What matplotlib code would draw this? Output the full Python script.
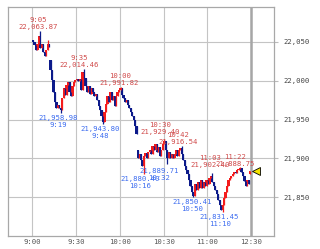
import matplotlib
matplotlib.use("Agg")
import matplotlib.pyplot as plt

# 1-minute candles, 9:00 .. 11:29 (morning session)
closes = [
    22049.6, 22045.8, 22039.3, 22047.0, 22057.3, 22041.9, 22047.0, 22036.8, 22031.6, 22039.3,
    22047.0, 22043.2, 22013.6, 22000.8, 21985.4, 21972.5, 21964.8, 21968.6, 21964.8, 21962.2,
    21977.6, 21990.5, 21981.5, 21994.3, 21998.2, 21985.4, 21980.2, 21993.1, 21998.2, 22000.8,
    22002.1, 21999.5, 22002.1, 21987.9, 22011.1, 22003.3, 21993.1, 21985.4, 21993.1, 21982.8,
    21990.5, 21985.4, 21980.2, 21982.8, 21975.1, 21967.4, 21962.2, 21954.5, 21946.8, 21959.6,
    21969.9, 21980.2, 21972.5, 21985.4, 21975.1, 21980.2, 21967.4, 21980.2, 21985.4, 21987.9,
    21990.5, 21981.5, 21977.6, 21972.5, 21975.1, 21968.6, 21964.8, 21959.6, 21954.5, 21949.4,
    21941.7, 21931.4, 21900.5, 21905.7, 21898.0, 21890.2, 21903.1, 21907.0, 21900.5, 21908.2,
    21910.8, 21905.7, 21916.0, 21910.8, 21918.5, 21908.2, 21914.7, 21903.1, 21910.8, 21918.5,
    21922.4, 21910.8, 21900.5, 21908.2, 21900.5, 21905.7, 21900.5, 21905.7, 21910.8, 21903.1,
    21910.8, 21913.4, 21905.7, 21898.0, 21890.2, 21885.1, 21880.0, 21872.2, 21864.5, 21856.8,
    21851.7, 21867.1, 21859.4, 21869.7, 21862.0, 21872.2, 21862.0, 21869.7, 21864.5, 21872.2,
    21867.1, 21874.8, 21877.4, 21869.7, 21864.5, 21859.4, 21854.3, 21846.5, 21840.1, 21833.7,
    21840.1, 21849.1, 21856.8, 21864.5, 21872.2, 21874.8, 21877.4, 21880.0, 21882.5, 21881.2,
    21885.1, 21886.4, 21887.7, 21882.5, 21877.4, 21871.0, 21864.5, 21872.2, 21867.1, 21883.8,
]
first_open = 22052.2
gap_opens = {12: 22026.5, 72: 21910.8, 149: 21880.0}
wick_highs = {5: 22063.87, 10: 22052.2, 35: 22014.46, 60: 21991.82, 90: 21925.0,
              102: 21916.54, 123: 21881.2, 142: 21888.75}
wick_lows = {19: 21958.98, 48: 21943.80, 76: 21880.40, 92: 21893.0, 110: 21850.41,
             130: 21831.45}

# (time, price text, minute index, price)
high_labels = [
    ("9:05", "22,063.87", 5, 22063.87),
    ("9:35", "22,014.46", 35, 22014.46),
    ("10:00", "21,991.82", 60, 21991.82),
    ("10:30", "21,929.40", 90, 21929.40),
    ("10:42", "21,916.54", 102, 21916.54),
    ("11:03", "21,902.40", 123, 21902.40),
    ("11:22", "21,888.75", 142, 21888.75),
]
low_labels = [
    ("9:19", "21,958.98", 19, 21958.98),
    ("9:48", "21,943.80", 48, 21943.80),
    ("10:16", "21,880.40", 76, 21880.40),
    ("10:32", "21,889.71", 92, 21889.71),
    ("10:50", "21,850.41", 110, 21850.41),
    ("11:10", "21,831.45", 130, 21831.45),
]

y_ticks = [21850, 21900, 21950, 22000, 22050]
x_ticks = [0, 30, 60, 90, 120, 150]
x_tick_labels = ["9:00", "9:30", "10:00", "10:30", "11:00", "12:30"]

UP = "#f41c1c"
DOWN = "#0c1a8a"
HI_TXT = "#d04a4a"
LO_TXT = "#3c6cf0"
FONT = "DejaVu Sans Mono"

# label nudges in pixels (dx, dy), screen y downwards
nudge = {"9:05": (-2, 0), "9:35": (-5, 0), "10:00": (-1, 0), "10:30": (-4, 0),
         "10:42": (-4, 0), "11:03": (-2, 12), "11:22": (-5, 1),
         "9:19": (-3, 0), "9:48": (-3, 0), "10:16": (-4, 0), "10:32": (-8, 0),
         "10:50": (-1, 0), "11:10": (-3, 0)}


def plot_candles(ax):
    opens = [first_open] + closes[:-1]
    for i, o in gap_opens.items():
        opens[i] = o
    for i, (o, c) in enumerate(zip(opens, closes)):
        col = UP if c >= o else DOWN
        hi = max(o, c, wick_highs.get(i, o))
        lo = min(o, c, wick_lows.get(i, o))
        ax.vlines(i + 0.5, lo, hi, color=col, lw=0.9)
        ax.bar(i + 0.5, max(abs(c - o), 1.0), bottom=min(o, c), width=1.55,
               color=col, lw=0)


def plot_labels(ax):
    for tm, txt, i, p in high_labels:
        dx, dy = nudge[tm]
        ax.annotate(txt, (i + 0.5, p), xytext=(dx, -dy + 4), textcoords="offset pixels",
                    ha="center", va="center", fontsize=5.2, family=FONT, color=HI_TXT)
        ax.annotate(tm, (i + 0.5, p), xytext=(dx, -dy + 11), textcoords="offset pixels",
                    ha="center", va="center", fontsize=5.2, family=FONT, color=HI_TXT)
    for tm, txt, i, p in low_labels:
        dx, dy = nudge[tm]
        ax.annotate(txt, (i + 0.5, p), xytext=(dx, -dy - 5), textcoords="offset pixels",
                    ha="center", va="center", fontsize=5.2, family=FONT, color=LO_TXT)
        ax.annotate(tm, (i + 0.5, p), xytext=(dx, -dy - 12), textcoords="offset pixels",
                    ha="center", va="center", fontsize=5.2, family=FONT, color=LO_TXT)


fig = plt.figure(figsize=(3.2, 2.49), dpi=100)
ax = fig.add_axes([8 / 320, 13 / 249, 266 / 320, 229 / 249])

ax.set_xlim(-16.7, 165.8)
ax.set_ylim(21800.3, 22094.6)
ax.set_xticks(x_ticks)
ax.set_xticklabels(x_tick_labels)
ax.set_yticks(y_ticks)
ax.set_yticklabels([f"{v:,}" for v in y_ticks])
ax.yaxis.tick_right()
ax.tick_params(axis="x", length=0, pad=2, labelsize=5.2, colors="#555555")
ax.tick_params(axis="y", length=3, width=0.8, pad=4, labelsize=5.2, colors="#444444")
ax.tick_params(axis="y", color="#bbbbbb")
for lab in ax.get_xticklabels() + ax.get_yticklabels():
    lab.set_family(FONT)
ax.grid(color="#c4c4c4", lw=0.8)
ax.axvline(150, color="#a6a6a6", lw=1.8)
ax.set_axisbelow(True)
for s in ax.spines.values():
    s.set_color("#a8a8a8")
    s.set_linewidth(0.9)

plot_candles(ax)
plot_labels(ax)

# current price marker
ax.plot(153.5, closes[-1], marker="<", ms=6, mfc="#f5e400", mec="black", mew=0.6,
        clip_on=False)

fig.savefig("out.png", dpi=100)
